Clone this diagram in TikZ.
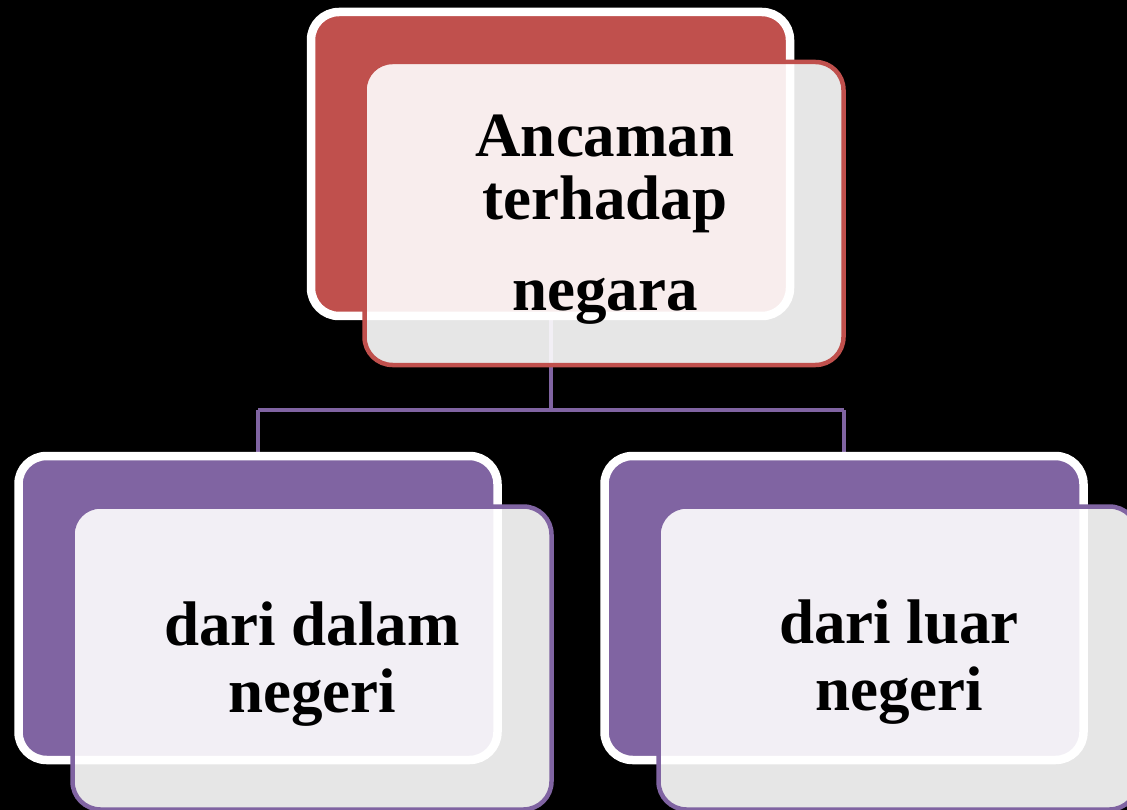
\documentclass[tikz,border=0pt]{standalone}
\usepackage{fontspec}
\setmainfont{Liberation Serif}
\definecolor{redc}{HTML}{C0504D}
\definecolor{purc}{HTML}{8064A2}
\begin{document}
\begin{tikzpicture}[x=1pt,y=-1pt,
  backbox/.style={rectangle,rounded corners=28pt,inner sep=0pt,outer sep=0pt,
    minimum width=479pt,minimum height=304pt,draw=white,line width=8.5pt},
  frontbox/.style={rectangle,rounded corners=28pt,inner sep=0pt,outer sep=0pt,
    minimum width=479pt,minimum height=303pt,fill=white,fill opacity=0.9,line width=4.5pt},
  txt/.style={anchor=base,inner sep=0pt,text=black,font=\fontsize{63}{63}\selectfont\bfseries},
  conn/.style={draw=purc,line width=4pt}]
\fill[black] (0,0) rectangle (1127,810);
\clip (0,0) rectangle (1127,810);
% connectors (drawn first, they show through the front boxes)
\coordinate (j) at (550.5,410);
\coordinate (jl) at (258,410);
\coordinate (jr) at (844,410);
\coordinate (ctop) at (550.5,316);
\coordinate (cl) at (258,456);
\coordinate (cr) at (844,456);
\draw[conn] (ctop) -- (j);
\draw[conn] (jl) -- (jr);
\draw[conn] (jl) -- (cl);
\draw[conn] (jr) -- (cr);
% top
\node[backbox,fill=redc] (topback) at (550.5,164) {};
\node[frontbox,draw=redc] (topfront) at (604,213.5) {};
\node[txt] (t1) at (605,157) {Ancaman};
\node[txt] (t2) at (605,220) {terhadap};
\node[txt] (t3) at (605,311) {negara};
% left
\node[backbox,fill=purc] (lback) at (258,608) {};
\node[frontbox,draw=purc] (lfront) at (312,658) {};
\node[txt] (l1) at (312,645) {dari dalam};
\node[txt] (l2) at (312,712) {negeri};
% right
\node[backbox,fill=purc] (rback) at (844,608) {};
\node[frontbox,draw=purc] (rfront) at (898,658) {};
\node[txt] (r1) at (899,643) {dari luar};
\node[txt] (r2) at (899,710) {negeri};
\end{tikzpicture}
\end{document}
